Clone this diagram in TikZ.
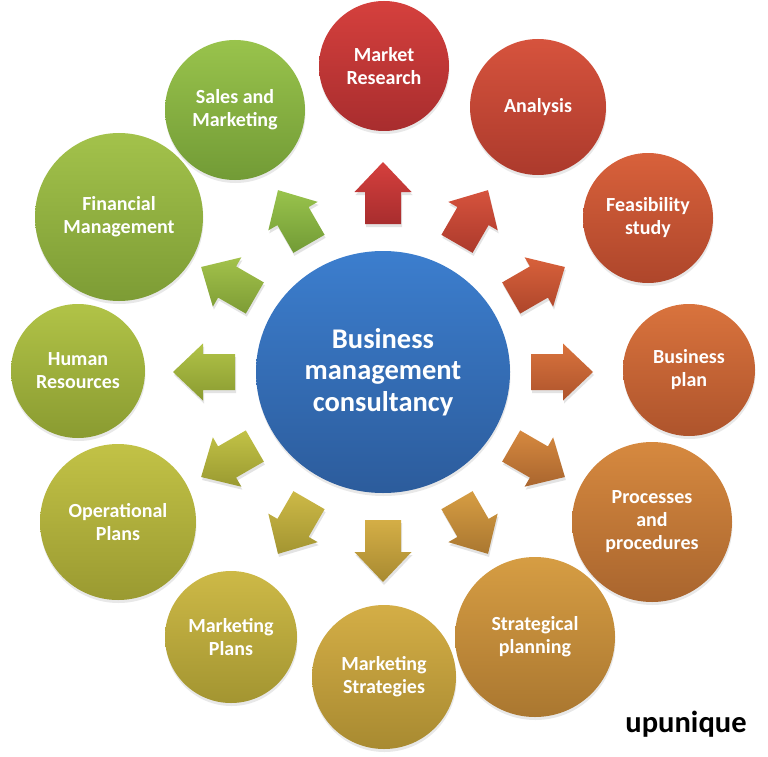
\documentclass[tikz,border=0pt]{standalone}
\usepackage{fontspec}
\setmainfont{Carlito}
\usetikzlibrary{calc,shapes.geometric,shadows}
\definecolor{ctrT}{HTML}{3C7ECE}
\definecolor{ctrB}{HTML}{2C5C9C}
\definecolor{mrT}{HTML}{D5403D}
\definecolor{mrB}{HTML}{A82D2E}
\definecolor{anT}{HTML}{D6533D}
\definecolor{anB}{HTML}{AC3A2C}
\definecolor{fsT}{HTML}{D8613B}
\definecolor{fsB}{HTML}{AE462B}
\definecolor{bpT}{HTML}{D9733D}
\definecolor{bpB}{HTML}{AE542C}
\definecolor{ppT}{HTML}{D6893F}
\definecolor{ppB}{HTML}{A9652E}
\definecolor{spT}{HTML}{D69D43}
\definecolor{spB}{HTML}{AA7730}
\definecolor{msT}{HTML}{D4AE46}
\definecolor{msB}{HTML}{A88A31}
\definecolor{mpT}{HTML}{CDB947}
\definecolor{mpB}{HTML}{A39531}
\definecolor{opT}{HTML}{C2C246}
\definecolor{opB}{HTML}{9A9A31}
\definecolor{hrT}{HTML}{B1C347}
\definecolor{hrB}{HTML}{8A9B31}
\definecolor{fmT}{HTML}{A3C24B}
\definecolor{fmB}{HTML}{7D9C35}
\definecolor{smT}{HTML}{99C34C}
\definecolor{smB}{HTML}{729B36}
\begin{document}
\begin{tikzpicture}[x=1pt,y=-1pt,
  bubble/.style={circle, inner sep=0pt, text=white, align=center,
    font=\bfseries\fontsize{20}{23}\selectfont,
    drop shadow={opacity=0.18, shadow xshift=0.5pt, shadow yshift=-3pt}},
  hub/.style={ellipse, inner sep=0pt, text=white, align=center,
    font=\bfseries\fontsize{28.5}{31.5}\selectfont,
    top color=ctrT, bottom color=ctrB,
    drop shadow={opacity=0.18, shadow xshift=0.5pt, shadow yshift=-3pt}},
  blockarrow/.style={drop shadow={opacity=0.22, shadow xshift=1pt, shadow yshift=-3pt}}
]
\useasboundingbox (0,0) rectangle (768,757);
\fill[white] (0,0) rectangle (768,757);

\node[hub, minimum width=254pt, minimum height=242pt] (ctr) at (383,372)
  {Business\\management\\consultancy};

\node[bubble, minimum size=130pt, top color=mrT, bottom color=mrB] (mr) at (384,66) {Market\\Research};
\node[bubble, minimum size=136pt, top color=anT, bottom color=anB] (an) at (538,107) {Analysis};
\node[bubble, minimum size=130pt, top color=fsT, bottom color=fsB] (fs) at (648,218) {Feasibility\\study};
\node[bubble, minimum size=132pt, top color=bpT, bottom color=bpB] (bp) at (689,370) {Business\\plan};
\node[bubble, minimum size=160pt, top color=ppT, bottom color=ppB] (pp) at (652,522) {Processes\\and\\procedures};
\node[bubble, minimum size=160pt, top color=spT, bottom color=spB] (sp) at (535,637) {Strategical\\planning};
\node[bubble, minimum size=144pt, top color=msT, bottom color=msB] (ms) at (384,677) {Marketing\\Strategies};
\node[bubble, minimum size=132pt, top color=mpT, bottom color=mpB] (mp) at (231,637) {Marketing\\Plans};
\node[bubble, minimum size=156pt, top color=opT, bottom color=opB] (op) at (118,522) {Operational\\Plans};
\node[bubble, minimum size=134pt, top color=hrT, bottom color=hrB] (hr) at (78,371) {Human\\Resources};
\node[bubble, minimum size=168pt, top color=fmT, bottom color=fmB] (fm) at (119,217) {Financial\\Management};
\node[bubble, minimum size=140pt, top color=smT, bottom color=smB] (sm) at (235,110) {Sales and\\Marketing};

\foreach \a/\t/\b in {-90/mrT/mrB, -60/anT/anB, -30/fsT/fsB, 0/bpT/bpB,
                      30/ppT/ppB, 60/spT/spB, 90/msT/msB, 120/mpT/mpB,
                      150/opT/opB, 180/hrT/hrB, 210/fmT/fmB, 240/smT/smB}{
  \shade[blockarrow, top color=\t, bottom color=\b]
    ($(ctr.center)+(\a:148)+(\a+90:18)$) --
    ($(ctr.center)+(\a:180)+(\a+90:18)$) --
    ($(ctr.center)+(\a:180)+(\a+90:28.5)$) --
    ($(ctr.center)+(\a:210)$) --
    ($(ctr.center)+(\a:180)+(\a-90:28.5)$) --
    ($(ctr.center)+(\a:180)+(\a-90:18)$) --
    ($(ctr.center)+(\a:148)+(\a-90:18)$) -- cycle;
}

\node[font=\bfseries\fontsize{30.5}{34}\selectfont, text=black, inner sep=0pt] (brand) at (686,724) {upunique};
\end{tikzpicture}
\end{document}
